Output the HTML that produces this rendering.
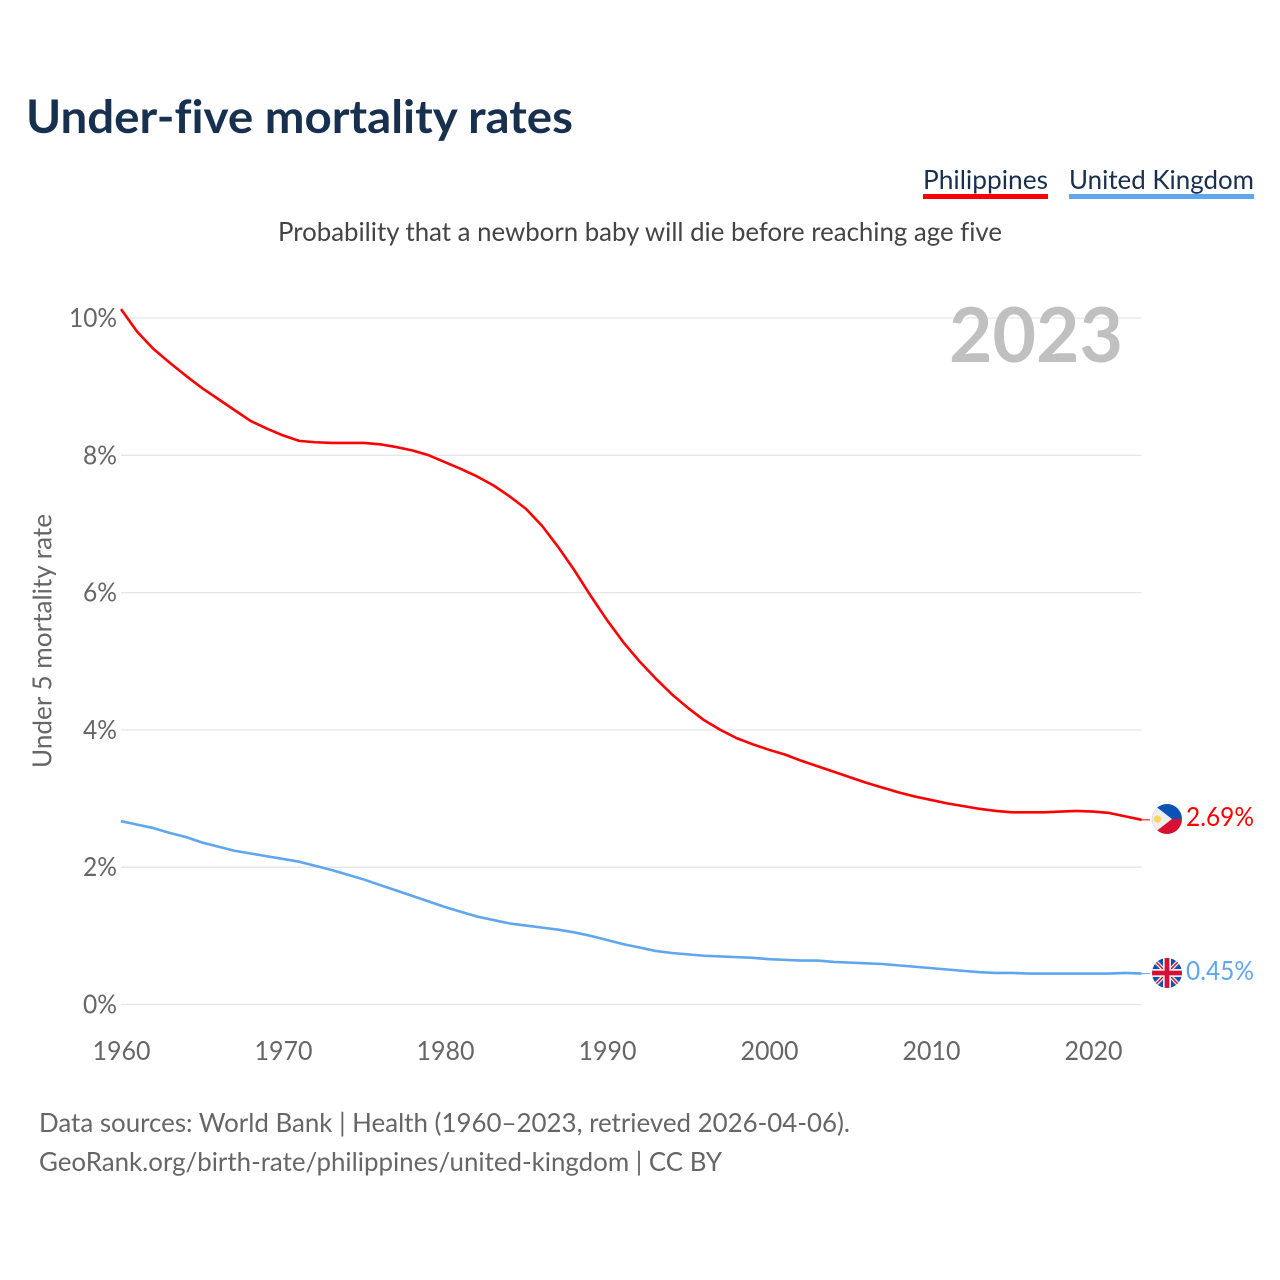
<!DOCTYPE html>
<html lang="en">
<head>
<meta charset="utf-8">
<title>Under-five mortality rates</title>
<style>
html,body{margin:0;padding:0;background:#fff;}
svg{display:block;}
text{font-family:"Lato","Carlito","Liberation Sans",sans-serif;font-variant-ligatures:none;}
</style>
</head>
<body>
<svg id="chart" xmlns="http://www.w3.org/2000/svg" width="1280" height="1280" viewBox="0 0 1280 1280">
  <rect x="0" y="0" width="1280" height="1280" fill="#ffffff"/>
  <text x="26" y="133" font-size="46" font-weight="700" fill="#18304f" textLength="547" lengthAdjust="spacingAndGlyphs">Under-five mortality rates</text>
  <g>
    <text x="923" y="189" font-size="26" fill="#18304f" textLength="125" lengthAdjust="spacingAndGlyphs">Philippines</text>
    <rect x="923" y="194" width="125" height="5" fill="#ff0000"/>
  </g>
  <g>
    <text x="1069" y="189" font-size="26" fill="#18304f" textLength="185" lengthAdjust="spacingAndGlyphs">United Kingdom</text>
    <rect x="1069" y="194" width="185" height="5" fill="#5fa6ee"/>
  </g>
  <text x="278" y="241" font-size="26" fill="#444444" textLength="724" lengthAdjust="spacingAndGlyphs">Probability that a newborn baby will die before reaching age five</text>

  <g id="grid"></g>
  <text x="949" y="362" font-size="76" font-weight="700" fill="#bdbdbd" fill-opacity="0.95" textLength="174" lengthAdjust="spacingAndGlyphs">2023</text>
  <g id="yticks"></g>
  <g id="xticks"></g>
  <text transform="translate(51.5,768) rotate(-90)" x="0" y="0" font-size="26" fill="#666666" textLength="254" lengthAdjust="spacingAndGlyphs">Under 5 mortality rate</text>
  <g id="series"></g>

  <g id="end-ph">
    <clipPath id="clip-ph"><circle cx="1167" cy="819" r="15"/></clipPath>
    <g clip-path="url(#clip-ph)">
      <rect x="1152" y="804" width="30" height="15" fill="#0a52b4"/>
      <rect x="1152" y="819" width="30" height="15" fill="#d80f35"/>
      <polygon points="1150,802 1172,819 1150,836" fill="#eeeeee"/>
      <circle cx="1157.5" cy="819" r="3.6" fill="#ffd65a"/>
    </g>
  </g>
  <g id="end-uk">
    <clipPath id="clip-uk"><circle cx="1167" cy="973" r="15"/></clipPath>
    <g clip-path="url(#clip-uk)">
      <rect x="1152" y="958" width="30" height="30" fill="#0a52b4"/>
      <line x1="1152" y1="958" x2="1182" y2="988" stroke="#eeeeee" stroke-width="4"/>
      <line x1="1182" y1="958" x2="1152" y2="988" stroke="#eeeeee" stroke-width="4"/>
      <line x1="1152" y1="958" x2="1182" y2="988" stroke="#d80f35" stroke-width="1.5"/>
      <line x1="1182" y1="958" x2="1152" y2="988" stroke="#d80f35" stroke-width="1.5"/>
      <rect x="1152" y="969" width="30" height="8" fill="#eeeeee"/>
      <rect x="1163" y="958" width="8" height="30" fill="#eeeeee"/>
      <rect x="1152" y="970.7" width="30" height="4.6" fill="#d80f35"/>
      <rect x="1164.7" y="958" width="4.6" height="30" fill="#d80f35"/>
    </g>
  </g>
  <text id="label-ph" x="1186" y="826" font-size="26" fill="#ff0000" textLength="68" lengthAdjust="spacingAndGlyphs"></text>
  <text id="label-uk" x="1186" y="980" font-size="26" fill="#5fa6ee" textLength="68" lengthAdjust="spacingAndGlyphs"></text>

  <text x="39" y="1132" font-size="26" fill="#666666" textLength="811" lengthAdjust="spacingAndGlyphs">Data sources: World Bank | Health (1960–2023, retrieved 2026-04-06).</text>
  <text x="39" y="1171" font-size="26" fill="#666666" textLength="683" lengthAdjust="spacingAndGlyphs">GeoRank.org/birth-rate/philippines/united-kingdom | CC BY</text>
</svg>
<script>
const startYear = 1960;
const yTickValues = [0, 2, 4, 6, 8, 10];
const xTickValues = [1960, 1970, 1980, 1990, 2000, 2010, 2020];
const philippines = [10.13,9.80,9.55,9.35,9.16,8.98,8.82,8.66,8.50,8.39,8.29,8.21,8.19,8.18,8.18,8.18,8.16,8.12,8.07,8.00,7.90,7.80,7.69,7.56,7.40,7.22,6.97,6.66,6.32,5.95,5.60,5.28,5.00,4.75,4.52,4.32,4.14,4.00,3.88,3.79,3.71,3.64,3.55,3.47,3.39,3.31,3.23,3.16,3.09,3.03,2.98,2.93,2.89,2.85,2.82,2.80,2.80,2.80,2.81,2.82,2.81,2.79,2.74,2.69];
const unitedKingdom = [2.67,2.62,2.57,2.50,2.44,2.36,2.30,2.24,2.20,2.16,2.12,2.08,2.02,1.96,1.89,1.82,1.74,1.66,1.58,1.50,1.42,1.35,1.28,1.23,1.18,1.15,1.12,1.09,1.05,1.00,0.94,0.88,0.83,0.78,0.75,0.73,0.71,0.70,0.69,0.68,0.66,0.65,0.64,0.64,0.62,0.61,0.60,0.59,0.57,0.55,0.53,0.51,0.49,0.47,0.46,0.46,0.45,0.45,0.45,0.45,0.45,0.45,0.46,0.45];

const NS = 'http://www.w3.org/2000/svg';
function xScale(year) { return 121 + (year - 1960) * (1141.6 - 121) / 63; }
function yScale(value) { return 1004.5 - value * 68.65; }
function node(tag, attrs, parent) {
  const el = document.createElementNS(NS, tag);
  for (const k in attrs) el.setAttribute(k, attrs[k]);
  parent.appendChild(el);
  return el;
}

const grid = document.getElementById('grid');
const yticks = document.getElementById('yticks');
yTickValues.forEach(function (v) {
  const line = node('line', {x1: 121, x2: 1141.6, y1: yScale(v), y2: yScale(v), stroke: '#e6e6e6', 'stroke-width': 1.3}, grid);
  
  
  const t = node('text', {x: 117, y: yScale(v) + 9, 'text-anchor': 'end', 'font-size': 26, fill: '#666666', textLength: v >= 10 ? 48 : 34, lengthAdjust: 'spacingAndGlyphs'}, yticks);
  
  
  t.textContent = v + '%';
});

const xticks = document.getElementById('xticks');
xTickValues.forEach(function (yr) {
  const t = node('text', {x: xScale(yr) + 0.5, y: 1060, 'text-anchor': 'middle', 'font-size': 26, fill: '#666666', textLength: 58, lengthAdjust: 'spacingAndGlyphs'}, xticks);
  
  
  t.textContent = yr;
});

function linePath(values) {
  return values.map(function (v, i) {
    return (i ? 'L' : 'M') + xScale(startYear + i).toFixed(2) + ' ' + yScale(v).toFixed(2);
  }).join(' ');
}
const series = document.getElementById('series');
const phLine = node('path', {d: linePath(philippines), fill: 'none', stroke: '#ff0000', 'stroke-width': 2.6, 'stroke-linejoin': 'round'}, series);


const ukLine = node('path', {d: linePath(unitedKingdom), fill: 'none', stroke: '#5fa6ee', 'stroke-width': 2.6, 'stroke-linejoin': 'round'}, series);



const phEnd = philippines[philippines.length - 1];
const ukEnd = unitedKingdom[unitedKingdom.length - 1];
const phConn = node('line', {x1: 1141, x2: 1150, y1: yScale(phEnd), y2: yScale(phEnd), stroke: '#ff0000', 'stroke-width': 1}, series);


const ukConn = node('line', {x1: 1141, x2: 1150, y1: yScale(ukEnd), y2: yScale(ukEnd), stroke: '#5fa6ee', 'stroke-width': 1}, series);


document.getElementById('label-ph').textContent = phEnd.toFixed(2) + '%';
document.getElementById('label-uk').textContent = ukEnd.toFixed(2) + '%';
</script>
</body>
</html>
